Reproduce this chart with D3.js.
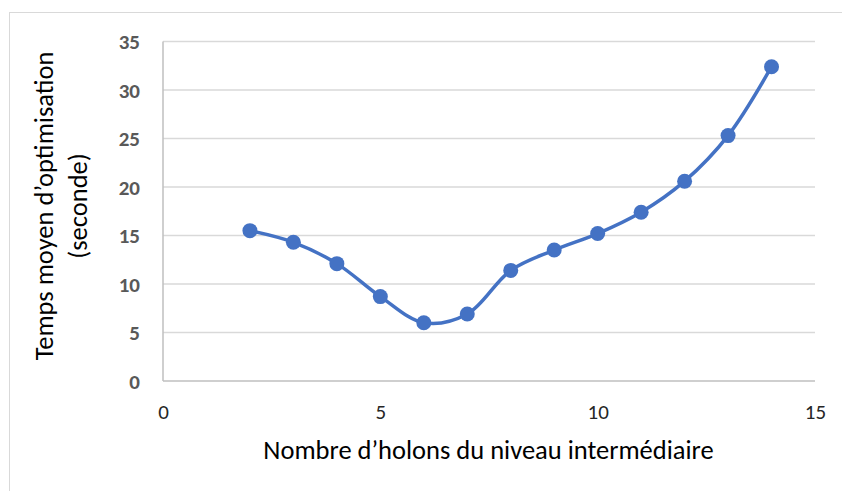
<!DOCTYPE html>
<html>
<head>
<meta charset="utf-8">
<script src="https://cdn.jsdelivr.net/npm/d3@7"></script>
<style>
  html, body { margin: 0; padding: 0; background: #fff; overflow: hidden; }
  svg { display: block; }
</style>
</head>
<body>
<svg id="chart" width="842" height="491"></svg>
<script>
// Mean optimisation time versus number of mid-level holons
const holons = [2, 3, 4, 5, 6, 7, 8, 9, 10, 11, 12, 13, 14];
const tempsMoyen = [15.5, 14.3, 12.1, 8.7, 6.0, 6.9, 11.4, 13.5, 15.2, 17.4, 20.6, 25.3, 32.4];
const xTicks = [0, 5, 10, 15];
const yTicks = [0, 5, 10, 15, 20, 25, 30, 35];
const xTitle = "Nombre d\u2019holons du niveau interm\u00e9diaire";
const yTitleLines = ["Temps moyen d\u2019optimisation", "(seconde)"];

const svg = d3.select("#chart");
const font = "Carlito, 'Open Sans', 'Liberation Sans', sans-serif";

// outer chart frame (continues past the right and bottom edges)
svg.append("rect")
  .attr("x", 9.5).attr("y", 12.5)
  .attr("width", 900).attr("height", 520)
  .attr("fill", "#fff").attr("stroke", "#D9D9D9").attr("stroke-width", 1);

const plot = { left: 163, right: 815, top: 41.5, bottom: 381 };

const x = d3.scaleLinear().domain([0, 15]).range([plot.left, plot.right]);
const y = d3.scaleLinear().domain([0, 35]).range([plot.bottom, plot.top]);

// horizontal gridlines
svg.append("g")
  .selectAll("line")
  .data(yTicks.filter(d => d > 0))
  .join("line")
  .attr("x1", plot.left).attr("x2", plot.right)
  .attr("y1", d => y(d)).attr("y2", d => y(d))
  .attr("stroke", "#D9D9D9").attr("stroke-width", 1.5);

// axis lines
svg.append("line")
  .attr("x1", plot.left).attr("x2", plot.left)
  .attr("y1", plot.top).attr("y2", plot.bottom)
  .attr("stroke", "#BFBFBF").attr("stroke-width", 1.5);
svg.append("line")
  .attr("x1", plot.left).attr("x2", plot.right)
  .attr("y1", plot.bottom).attr("y2", plot.bottom)
  .attr("stroke", "#BFBFBF").attr("stroke-width", 1.5);

// y tick labels (bold grey)
const yAxis = d3.axisLeft(y).tickValues(yTicks).tickSize(0).tickPadding(0);
const gy = svg.append("g").attr("transform", `translate(${plot.left - 23},0)`).call(yAxis);
gy.select(".domain").remove();
gy.selectAll("text")
  .attr("font-family", font).attr("font-size", 21).attr("font-weight", "bold")
  .attr("fill", "#595959").attr("dy", "0.35em");

// x tick labels
const xAxis = d3.axisBottom(x).tickValues(xTicks).tickSize(0).tickPadding(0);
const gx = svg.append("g").attr("transform", `translate(0,0)`).call(xAxis);
gx.select(".domain").remove();
gx.selectAll("text")
  .attr("font-family", font).attr("font-size", 21)
  .attr("fill", "#262626").attr("y", 419).attr("dy", 0);

// axis titles
svg.append("text")
  .attr("x", (plot.left + plot.right) / 2 - 0.5).attr("y", 459)
  .attr("text-anchor", "middle")
  .attr("font-family", font).attr("font-size", 26.5).attr("fill", "#000")
  .text(xTitle);

const yt = svg.append("text")
  .attr("transform", "translate(53,206) rotate(-90)")
  .attr("text-anchor", "middle")
  .attr("font-family", font).attr("font-size", 26.5).attr("fill", "#000");
yTitleLines.forEach((t, i) => {
  yt.append("tspan").attr("x", 0).attr("dy", i === 0 ? 0 : 34).text(t);
});

// smoothed series line
const line = d3.line()
  .x((d, i) => x(holons[i]))
  .y(d => y(d))
  .curve(d3.curveCatmullRom.alpha(0.5));

svg.append("path")
  .datum(tempsMoyen)
  .attr("d", line)
  .attr("fill", "none")
  .attr("stroke", "#4472C4")
  .attr("stroke-width", 3.5)
  .attr("stroke-linecap", "round");

// markers
svg.append("g")
  .selectAll("circle")
  .data(tempsMoyen)
  .join("circle")
  .attr("cx", (d, i) => x(holons[i]))
  .attr("cy", d => y(d))
  .attr("r", 7.5)
  .attr("fill", "#4472C4");
</script>
</body>
</html>
